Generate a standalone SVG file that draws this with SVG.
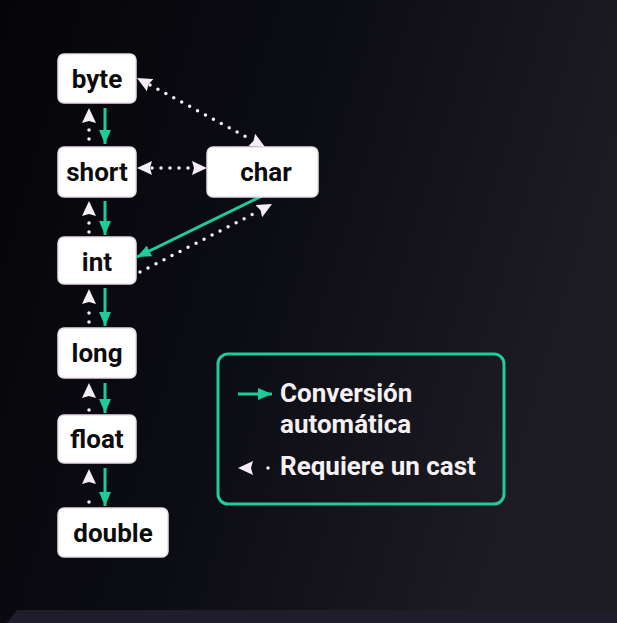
<svg xmlns="http://www.w3.org/2000/svg" width="617" height="623" viewBox="0 0 617 623">
<defs>
<linearGradient id="bg" x1="0" y1="0" x2="1" y2="0.3">
<stop offset="0" stop-color="#050508"/>
<stop offset="0.5" stop-color="#0c0c14"/>
<stop offset="1" stop-color="#1d1c22"/>
</linearGradient>
<marker id="wh" viewBox="0 0 15 14" refX="15" refY="7" markerWidth="15" markerHeight="14" markerUnits="userSpaceOnUse" orient="auto-start-reverse">
<path d="M0,0 L15,7 L0,14 L2,7 Z" fill="#f4eef4"/>
</marker>
<marker id="gr" viewBox="0 0 14 12" refX="14" refY="6" markerWidth="14" markerHeight="12" markerUnits="userSpaceOnUse" orient="auto">
<path d="M0,0 L14,6 L0,12 Z" fill="#1fcc97"/>
</marker>
<style>
.node rect{fill:#ffffff;stroke:#e8dce8;stroke-width:1.5}
.node text{font-family:Roboto,"Liberation Sans",sans-serif;font-weight:bold;font-size:26px;fill:#0c0c0c;text-anchor:middle}
.dot{stroke:#f4eef4;stroke-width:3.5;stroke-linecap:round;stroke-dasharray:0 9;fill:none}
.g{stroke:#1fcc97;stroke-width:3;fill:none}
.leg{font-family:Roboto,"Liberation Sans",sans-serif;font-weight:bold;font-size:26px;fill:#f4f0f4}
</style>
</defs>
<rect width="617" height="623" fill="url(#bg)"/>
<path d="M17,610 L617,610 L617,623 L7,623 Z" fill="#1f1d2b"/>

<g id="connectors">
<line class="g" x1="105" y1="108" x2="105" y2="144" marker-end="url(#gr)"/>
<line class="dot" x1="89" y1="139" x2="89" y2="128"/>
<line x1="89" y1="125" x2="89" y2="108" stroke="none" marker-end="url(#wh)"/>
<line class="g" x1="105" y1="201" x2="105" y2="235" marker-end="url(#gr)"/>
<line class="dot" x1="89" y1="232" x2="89" y2="222"/>
<line x1="89" y1="218" x2="89" y2="201" stroke="none" marker-end="url(#wh)"/>
<line class="g" x1="105" y1="288" x2="105" y2="326" marker-end="url(#gr)"/>
<line class="dot" x1="89" y1="322" x2="89" y2="312"/>
<line x1="89" y1="306" x2="89" y2="289" stroke="none" marker-end="url(#wh)"/>
<line class="g" x1="105" y1="383" x2="105" y2="413" marker-end="url(#gr)"/>
<line class="dot" x1="89" y1="410" x2="89" y2="410"/>
<line x1="89" y1="400" x2="89" y2="383" stroke="none" marker-end="url(#wh)"/>
<line class="g" x1="105" y1="468" x2="105" y2="506" marker-end="url(#gr)"/>
<line class="dot" x1="89" y1="502" x2="89" y2="493"/>
<line x1="89" y1="486" x2="89" y2="469" stroke="none" marker-end="url(#wh)"/>
<line class="dot" x1="150" y1="85" x2="252" y2="140"/>
<line x1="150" y1="85" x2="137" y2="78" stroke="none" marker-end="url(#wh)"/>
<line x1="252" y1="140" x2="265" y2="147" stroke="none" marker-end="url(#wh)"/>
<line class="dot" x1="152" y1="168" x2="192" y2="168"/>
<line x1="152" y1="168" x2="137" y2="168" stroke="none" marker-end="url(#wh)"/>
<line x1="192" y1="168" x2="207" y2="168" stroke="none" marker-end="url(#wh)"/>
<line class="g" x1="262" y1="196" x2="137" y2="257" marker-end="url(#gr)"/>
<line class="dot" x1="140" y1="272" x2="259" y2="211"/>
<line x1="259" y1="211" x2="272" y2="204" stroke="none" marker-end="url(#wh)"/>
</g>

<g id="byte" class="node"><rect x="58" y="54" width="78" height="49" rx="6"/><text x="97" y="88">byte</text></g>
<g id="short" class="node"><rect x="58" y="147" width="78" height="50" rx="6"/><text x="97" y="181">short</text></g>
<g id="char" class="node"><rect x="207" y="147" width="111" height="50" rx="6"/><text x="266" y="181">char</text></g>
<g id="int" class="node"><rect x="58" y="237" width="78" height="47" rx="6"/><text x="97" y="271">int</text></g>
<g id="long" class="node"><rect x="58" y="328" width="78" height="50" rx="6"/><text x="97" y="362">long</text></g>
<g id="float" class="node"><rect x="58" y="415" width="78" height="48" rx="6"/><text x="97" y="448">float</text></g>
<g id="double" class="node"><rect x="58" y="508" width="110" height="49" rx="6"/><text x="113" y="542">double</text></g>

<g id="legend">
<rect x="218" y="354" width="286" height="150" rx="10" fill="none" stroke="#1fcc97" stroke-width="3"/>
<line class="g" x1="238" y1="394" x2="272" y2="394" marker-end="url(#gr)"/>
<text class="leg" x="280" y="402">Conversión</text>
<text class="leg" x="280" y="433">automática</text>
<line x1="254" y1="468" x2="238" y2="468" stroke="none" marker-end="url(#wh)"/>
<line class="dot" x1="268" y1="468" x2="268" y2="468"/>
<text class="leg" x="280" y="475">Requiere un cast</text>
</g>
</svg>
